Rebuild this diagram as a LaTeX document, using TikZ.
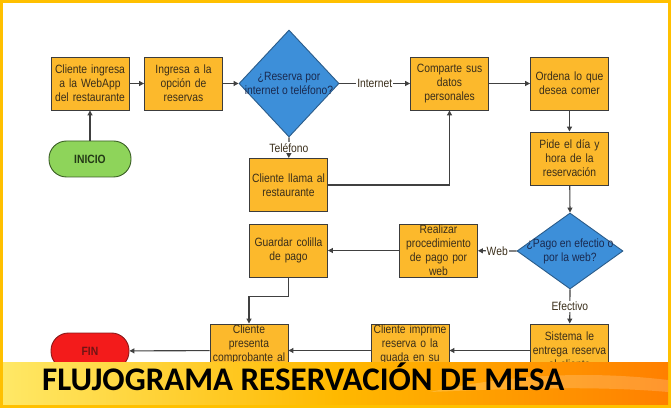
\documentclass[tikz,border=0pt]{standalone}
\usepackage{fontspec}
\setmainfont{Liberation Sans}[FakeStretch=0.86]
\newfontfamily\titlefont{Carlito}
\usetikzlibrary{arrows.meta,shapes.geometric}
\definecolor{frameY}{HTML}{FFC000}
\definecolor{boxF}{HTML}{FCB92C}
\definecolor{boxD}{HTML}{3C3C3C}
\definecolor{txtC}{HTML}{3A2E1A}
\definecolor{diaF}{HTML}{3D8FD9}
\definecolor{diaD}{HTML}{2B5C8A}
\definecolor{diaT}{HTML}{1A2A50}
\definecolor{iniF}{HTML}{8ED45A}
\definecolor{iniD}{HTML}{3B5F25}
\definecolor{finF}{HTML}{F31B1B}
\definecolor{finD}{HTML}{8B1A1A}
\definecolor{lineC}{HTML}{404040}
\tikzset{
  stepbox/.style={draw=boxD, fill=boxF, line width=0.9pt, minimum width=78pt, minimum height=53pt,
    inner sep=0pt, text width=76pt, align=center, text=txtC, font=\fontsize{12}{14}\selectfont},
  dia/.style={diamond, draw=diaD, fill=diaF, line width=0.9pt, inner sep=0pt},
  diatext/.style={align=center, text=diaT, font=\fontsize{12}{14}\selectfont, inner sep=0pt},
  term/.style={draw=#1, line width=0.9pt, minimum width=82pt, minimum height=36pt, rounded corners=17.5pt,
    inner sep=0pt, font=\bfseries\fontsize{12}{14}\selectfont},
  arr/.style={draw=lineC, line width=1.1pt, -{Triangle[width=5pt,length=5pt]}},
  lbl/.style={fill=white, inner sep=1pt, text=txtC, font=\fontsize{12}{14}\selectfont},
}
\begin{document}
\begin{tikzpicture}[x=1pt, y=-1pt]
\useasboundingbox (0,0) rectangle (671,419);
% frame
\fill[white] (0,0) rectangle (671,419);
\draw[frameY, line width=3pt] (1.5,1.5) rectangle (669.5,406.5);

% nodes
\node[term=iniD, fill=iniF, text=iniD!60!black] (inicio) at (90,159) {INICIO};
\node[stepbox] (b1) at (90,83.5) {Cliente ingresa\\a la WebApp\\del restaurante};
\node[stepbox] (b2) at (183.5,83.5) {Ingresa a la\\opción de\\reservas};
\node[dia, minimum width=100pt, minimum height=107pt,
  label={[diatext]center:{¿Reserva por\\internet o teléfono?}}] (d1) at (289,83.5) {};
\node[stepbox] (llama) at (288.5,185) {Cliente llama al\\restaurante};
\node[stepbox] (comparte) at (449.5,83.5) {Comparte sus\\datos\\personales};
\node[stepbox] (ordena) at (569.5,83.5) {Ordena lo que\\desea comer};
\node[stepbox] (pide) at (569.5,158.5) {Pide el día y\\hora de la\\reservación};
\node[dia, minimum width=106pt, minimum height=76pt,
  label={[diatext]center:{¿Pago en efectio o\\por la web?}}] (d2) at (570,251) {};
\node[stepbox] (realizar) at (438.5,250.5) {Realizar\\procedimiento\\de pago por\\web};
\node[stepbox] (guardar) at (288.5,250.5) {Guardar colilla\\de pago};
\node[stepbox] (sistema) at (569.5,350.5) {Sistema le\\entrega reserva\\al cliente};
\node[stepbox] (imprime) at (410,350.5) {Cliente imprime\\reserva o la\\guada en su\\\mbox{}};
\node[stepbox] (presenta) at (249,350.5) {Cliente\\presenta\\comprobante al\\\mbox{}};
\node[term=finD, fill=finF, text=finD!80!black, minimum width=78pt] (fin) at (90,351) {FIN};

% connectors
\draw[arr] (inicio) -- (b1);
\draw[arr] (b1) -- (b2);
\draw[arr] (b2) -- (d1.west);
\draw[arr] (d1.east) -- node[lbl] {Internet} (comparte);
\draw[arr] (d1.south) -- node[lbl] {Teléfono} (llama);
\draw[arr] (llama.east) -| (comparte.south);
\draw[arr] (comparte) -- (ordena);
\draw[arr] (ordena) -- (pide);
\draw[arr] (pide) -- (d2.north);
\draw[arr] (d2.west) -- node[lbl] {Web} (realizar);
\draw[arr] (realizar) -- (guardar);
\draw[arr] (d2.south) -- node[lbl] {Efectivo} (sistema);
\draw[arr] (sistema) -- (imprime);
\draw[arr] (imprime) -- (presenta);
\draw[arr] (presenta) -- (fin);
\draw[arr] (guardar.south) -- ++(0,19) -| (presenta.north);

% banner
\shade[left color=yellow!70!orange!60!white, right color=orange, middle color=orange!55!yellow]
  (3,362) rectangle (668,404);
\fill[white, opacity=0.18] (430,392) .. controls (520,372) and (600,372) .. (668,380)
  -- (668,392) .. controls (600,386) and (520,388) .. (430,392) -- cycle;
\node[anchor=base west, inner sep=0pt, font=\titlefont\bfseries\fontsize{33}{36}\selectfont] (title)
  at (42,390) {FLUJOGRAMA RESERVACIÓN DE MESA};
\end{tikzpicture}
\end{document}
